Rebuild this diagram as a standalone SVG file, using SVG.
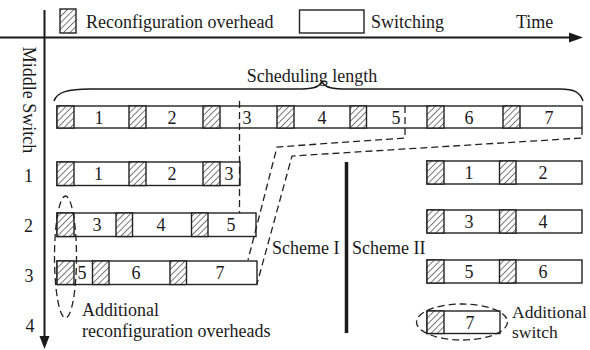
<svg xmlns="http://www.w3.org/2000/svg" width="590" height="350" viewBox="0 0 590 350">
<defs>
<pattern id="hatch" patternUnits="userSpaceOnUse" width="4.5" height="4.5" patternTransform="rotate(45)">
<rect width="4.5" height="4.5" fill="#fff"/>
<line x1="0" y1="0" x2="0" y2="4.5" stroke="#222" stroke-width="1.2"/>
</pattern>
</defs>
<style>
text{font-family:"Liberation Serif","Times New Roman",serif;font-size:18px;fill:#1a1a1a}
.c{text-anchor:middle}
.s{font-size:17.5px}
.bar{fill:#fff;stroke:#222;stroke-width:1.4}
.h{fill:url(#hatch);stroke:#222;stroke-width:1.4}
.ax{stroke:#1a1a1a;stroke-width:2;fill:none}
.dash{fill:none;stroke:#222;stroke-width:1.3;stroke-dasharray:7,4}
</style>
<rect width="590" height="350" fill="#fff"/>

<g id="axes">
<line class="ax" x1="0" y1="37.5" x2="572" y2="37.5"/>
<polygon points="583,37.5 569,32.5 569,42.5" fill="#1a1a1a"/>
<line class="ax" x1="44.5" y1="10" x2="44.5" y2="338"/>
<polygon points="44.5,349 39.5,336 49.5,336" fill="#1a1a1a"/>
<text x="516" y="28">Time</text>
<text transform="translate(23,100) rotate(90)" class="c">Middle Switch</text>
<text x="28.5" y="182" class="c">1</text>
<text x="28.5" y="231.5" class="c">2</text>
<text x="29" y="281.5" class="c">3</text>
<text x="30" y="331.5" class="c">4</text>
</g>

<g id="legend">
<rect class="h" x="60" y="9" width="16" height="24"/>
<text x="86" y="28">Reconfiguration overhead</text>
<rect class="bar" x="299.5" y="10" width="64.5" height="23"/>
<text x="371" y="28">Switching</text>
</g>

<g id="scheduling-length">
<path d="M54,101 C57,92 68,89 90,89 L296,89 C312,89 318,88 322,82 C326,88 332,89 348,89 L560,89 C574,89 580,92 583,101" fill="none" stroke="#1a1a1a" stroke-width="1.5"/>
<text x="312" y="82" class="c">Scheduling length</text>
</g>

<g id="top-bar">
<rect class="bar" x="57" y="106" width="525" height="22"/>
<rect class="h" x="57" y="106" width="17" height="22"/>
<rect class="h" x="129" y="106" width="17" height="22"/>
<rect class="h" x="203" y="106" width="17" height="22"/>
<rect class="h" x="277" y="106" width="17" height="22"/>
<rect class="h" x="350" y="106" width="16.5" height="22"/>
<rect class="h" x="427" y="106" width="17" height="22"/>
<rect class="h" x="503" y="106" width="17" height="22"/>
<text x="99" y="123.5" class="c">1</text>
<text x="172" y="123.5" class="c">2</text>
<text x="247" y="123.5" class="c">3</text>
<text x="322" y="123.5" class="c">4</text>
<text x="396" y="123.5" class="c">5</text>
<text x="469" y="123.5" class="c">6</text>
<text x="549" y="123.5" class="c">7</text>
</g>

<g id="scheme1-switch1">
<rect class="bar" x="57" y="162" width="183" height="23.5"/>
<rect class="h" x="57" y="162" width="17" height="23.5"/>
<rect class="h" x="129" y="162" width="17" height="23.5"/>
<rect class="h" x="203" y="162" width="17" height="23.5"/>
<text x="98.5" y="180" class="c">1</text>
<text x="172" y="180" class="c">2</text>
<text x="229" y="180" class="c">3</text>
</g>

<g id="scheme1-switch2">
<rect class="bar" x="57" y="213" width="199" height="23.5"/>
<rect class="h" x="57" y="213" width="17" height="23.5"/>
<rect class="h" x="116" y="213" width="16.5" height="23.5"/>
<rect class="h" x="191.5" y="213" width="16.5" height="23.5"/>
<text x="97" y="231" class="c">3</text>
<text x="161" y="231" class="c">4</text>
<text x="231" y="231" class="c">5</text>
</g>

<g id="scheme1-switch3">
<rect class="bar" x="57" y="261" width="200" height="23.5"/>
<rect class="h" x="57" y="261" width="17" height="23.5"/>
<rect class="h" x="92.5" y="261" width="16.5" height="23.5"/>
<rect class="h" x="170" y="261" width="16.5" height="23.5"/>
<text x="82" y="279" class="c">5</text>
<text x="136" y="279" class="c">6</text>
<text x="220" y="279" class="c">7</text>
</g>

<g id="scheme2-switch1">
<rect class="bar" x="427" y="161" width="155" height="23"/>
<rect class="h" x="427" y="161" width="17" height="23"/>
<rect class="h" x="499.5" y="161" width="16.5" height="23"/>
<text x="469" y="178.5" class="c">1</text>
<text x="543" y="178.5" class="c">2</text>
</g>

<g id="scheme2-switch2">
<rect class="bar" x="427" y="210" width="155" height="23"/>
<rect class="h" x="427" y="210" width="17" height="23"/>
<rect class="h" x="499.5" y="210" width="16.5" height="23"/>
<text x="469" y="227.5" class="c">3</text>
<text x="543" y="227.5" class="c">4</text>
</g>

<g id="scheme2-switch3">
<rect class="bar" x="427" y="260" width="155" height="23"/>
<rect class="h" x="427" y="260" width="17" height="23"/>
<rect class="h" x="499.5" y="260" width="16.5" height="23"/>
<text x="469" y="277.5" class="c">5</text>
<text x="543" y="277.5" class="c">6</text>
</g>

<g id="scheme2-switch4">
<rect class="bar" x="427" y="311" width="73" height="22.5"/>
<rect class="h" x="427" y="311" width="17" height="22.5"/>
<text x="470" y="328.5" class="c">7</text>
</g>

<g id="connectors">
<line class="dash" x1="239.5" y1="101" x2="239.5" y2="213"/>
<path class="dash" d="M405,106 L405,138 L277,147 L248,260"/>
<path class="dash" d="M582,128 L582,138 L292,156 L257,284"/>
</g>

<g id="separator">
<line x1="346.5" y1="162" x2="346.5" y2="333" stroke="#1a1a1a" stroke-width="3.5"/>
<text x="272" y="254">Scheme I</text>
<text x="352" y="254">Scheme II</text>
</g>

<g id="additional-overheads">
<ellipse class="dash" cx="65.5" cy="257" rx="11" ry="61"/>
<text x="82" y="316">Additional</text>
<text x="82" y="337">reconfiguration overheads</text>
</g>

<g id="additional-switch">
<ellipse class="dash" cx="462" cy="322" rx="45.5" ry="18"/>
<text x="512" y="317.5" class="s">Additional</text>
<text x="512" y="338" class="s">switch</text>
</g>
</svg>
